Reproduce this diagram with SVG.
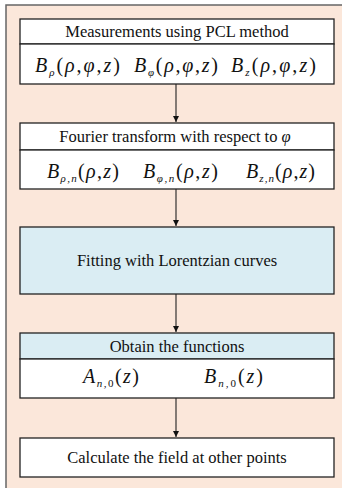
<svg xmlns="http://www.w3.org/2000/svg" width="342" height="488" viewBox="0 0 342 488">
<style>
.box{fill:#fff;stroke:#222;stroke-width:1.3}
.blue{fill:#daedf3;stroke:#222;stroke-width:1.3}
.t{font-family:"Liberation Serif",serif;font-size:16.5px;fill:#111;text-anchor:middle}
.m{font-family:"Liberation Serif",serif;font-size:20px;font-style:italic;fill:#111}
.s{font-size:11px}
.u{font-style:normal}
.c{stroke:#222;stroke-width:1.1;fill:none}
</style>
<defs>
<marker id="ah" markerWidth="8" markerHeight="8" refX="6" refY="3" orient="auto" markerUnits="userSpaceOnUse">
<path d="M0,0 L6,3 L0,6 z" fill="#111"/>
</marker>
</defs>
<rect x="6" y="5" width="340" height="490" fill="#fbe7da"/>
<path d="M6,490 V5 H342" stroke="#666" stroke-width="1.5" fill="none"/>
<g id="connectors">
<line class="c" x1="176" y1="84" x2="176" y2="122" marker-end="url(#ah)"/>
<line class="c" x1="176" y1="189" x2="176" y2="226" marker-end="url(#ah)"/>
<line class="c" x1="176" y1="294" x2="176" y2="332" marker-end="url(#ah)"/>
<line class="c" x1="176" y1="398" x2="176" y2="437" marker-end="url(#ah)"/>
</g>
<g id="n1">
<rect class="box" x="20" y="19" width="314" height="25"/>
<rect class="box" x="20" y="44" width="314" height="40"/>
<text class="t" x="177" y="37">Measurements using PCL method</text>
<text class="m" x="35" y="72" textLength="85" lengthAdjust="spacing">B<tspan class="s" dy="4">ρ</tspan><tspan dy="-4" class="u">(</tspan>ρ<tspan class="u">,</tspan>φ<tspan class="u">,</tspan>z<tspan class="u">)</tspan></text>
<text class="m" x="134" y="72" textLength="84" lengthAdjust="spacing">B<tspan class="s" dy="4">φ</tspan><tspan dy="-4" class="u">(</tspan>ρ<tspan class="u">,</tspan>φ<tspan class="u">,</tspan>z<tspan class="u">)</tspan></text>
<text class="m" x="231" y="72" textLength="85" lengthAdjust="spacing">B<tspan class="s" dy="4">z</tspan><tspan dy="-4" class="u">(</tspan>ρ<tspan class="u">,</tspan>φ<tspan class="u">,</tspan>z<tspan class="u">)</tspan></text>
</g>
<g id="n2">
<rect class="box" x="20" y="123" width="314" height="27"/>
<rect class="box" x="20" y="150" width="314" height="39"/>
<text class="t" x="175" y="142">Fourier transform with respect to <tspan font-style="italic">φ</tspan></text>
<text class="m" x="47" y="178" textLength="72" lengthAdjust="spacing">B<tspan class="s" dy="4">ρ,n</tspan><tspan dy="-4" class="u">(</tspan>ρ<tspan class="u">,</tspan>z<tspan class="u">)</tspan></text>
<text class="m" x="143" y="178" textLength="75" lengthAdjust="spacing">B<tspan class="s" dy="4">φ,n</tspan><tspan dy="-4" class="u">(</tspan>ρ<tspan class="u">,</tspan>z<tspan class="u">)</tspan></text>
<text class="m" x="246" y="178" textLength="69" lengthAdjust="spacing">B<tspan class="s" dy="4">z,n</tspan><tspan dy="-4" class="u">(</tspan>ρ<tspan class="u">,</tspan>z<tspan class="u">)</tspan></text>
</g>
<g id="n3">
<rect class="blue" x="20" y="227" width="314" height="67"/>
<text class="t" x="177" y="266">Fitting with Lorentzian curves</text>
</g>
<g id="n4">
<rect class="blue" x="20" y="333" width="314" height="26"/>
<rect class="box" x="20" y="359" width="314" height="39"/>
<text class="t" x="177" y="352">Obtain the functions</text>
<text class="m" x="83" y="383" textLength="56" lengthAdjust="spacing">A<tspan class="s" dy="4">n,</tspan><tspan class="s u">0</tspan><tspan dy="-4" class="u">(</tspan>z<tspan class="u">)</tspan></text>
<text class="m" x="204" y="383" textLength="59" lengthAdjust="spacing">B<tspan class="s" dy="4">n,</tspan><tspan class="s u">0</tspan><tspan dy="-4" class="u">(</tspan>z<tspan class="u">)</tspan></text>
</g>
<g id="n5">
<rect class="box" x="20" y="438" width="314" height="39"/>
<text class="t" x="177" y="463">Calculate the field at other points</text>
</g>
</svg>
